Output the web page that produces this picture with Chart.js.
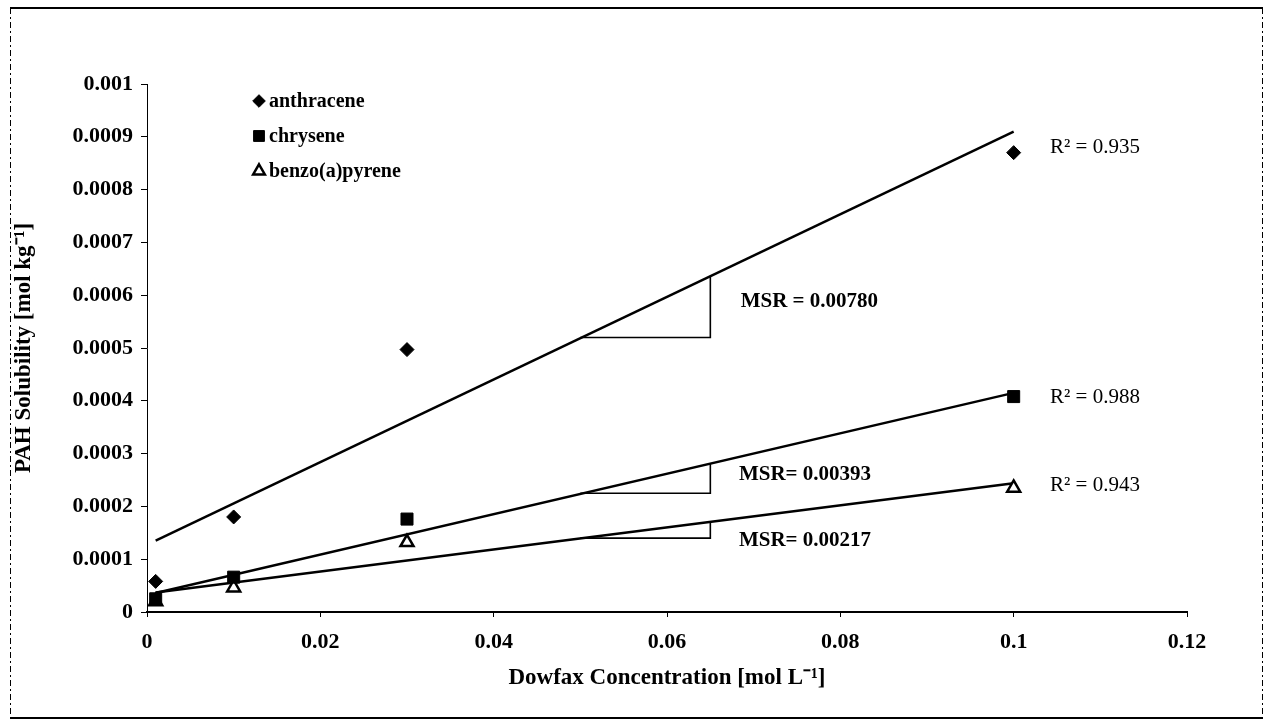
<!DOCTYPE html>
<html><head><meta charset="utf-8">
<script src="https://cdn.jsdelivr.net/npm/chart.js@4/dist/chart.umd.min.js"></script>
<style>html,body{margin:0;padding:0;background:#fff;}#wrap{width:1274px;height:726px;position:relative;}canvas{display:block;}</style>
</head><body><div id="wrap"><canvas id="c" width="1274" height="726" style="width:1274px;height:726px"></canvas></div>
<script>
// ---- data ----
const seriesNames = ['anthracene', 'chrysene', 'benzo(a)pyrene'];
const concentrations = [0.001, 0.01, 0.03, 0.1];
const anthraceneValues = [0.000058, 0.00018, 0.000497, 0.00087];
const chryseneValues = [0.000025, 0.000066, 0.000176, 0.000408];
const benzoValues = [0.00002, 0.000046, 0.000132, 0.000235];
const trendX = [0.001, 0.1];
const anthraceneTrend = [0.000135, 0.00091];
const chryseneTrend = [0.000036, 0.000415];
const benzoTrend = [0.000037, 0.000244];
const slopeX = [0.05, 0.065, 0.065];
const anthraceneSlope = [0.00052, 0.00052, 0.000637];
const chryseneSlope = [0.000225, 0.000225, 0.000282];
const benzoSlope = [0.00014, 0.00014, 0.00017];
const r2Labels = ['R² = 0.935', 'R² = 0.988', 'R² = 0.943'];
const msrLabels = ['MSR = 0.00780', 'MSR= 0.00393', 'MSR= 0.00217'];
const xTickValues = [0, 0.02, 0.04, 0.06, 0.08, 0.1, 0.12];
const yTickValues = [0, 0.0001, 0.0002, 0.0003, 0.0004, 0.0005, 0.0006, 0.0007, 0.0008, 0.0009, 0.001];
const xTitle = 'Dowfax Concentration [mol L⁻¹]';
const yTitle = 'PAH Solubility [mol kg⁻¹]';

// ---- annotation placement (data coordinates) ----
const r2Anchors = [[0.1042, 0.00088], [0.1042, 0.000407], [0.1042, 0.00024]];
const msrAnchors = [[0.0685, 0.000587], [0.0683, 0.00026], [0.0683, 0.000136]];

const pts = (xs, ys) => xs.map((x, i) => ({x: x, y: ys[i]}));
const FONT = "'Liberation Serif', 'Times New Roman', serif";

const markerStyles = [
  {pointStyle: 'rectRot', radius: 7, bg: '#000', border: '#000', bw: 1},
  {pointStyle: 'rect', radius: 8.5, bg: '#000', border: '#000', bw: 1},
  {pointStyle: 'triangle', radius: 7.5, bg: '#fff', border: '#000', bw: 2.5}
];

function lineDs(data) {
  return {type: 'line', data: data, borderColor: '#000', borderWidth: 2.5, pointRadius: 0,
    fill: false, tension: 0, showLine: true, order: 2};
}
function slopeDs(data) {
  return {type: 'line', data: data, borderColor: '#000', borderWidth: 1.6, pointRadius: 0,
    fill: false, tension: 0, showLine: true, order: 2};
}
function scatterDs(i, ys) {
  const m = markerStyles[i];
  return {type: 'scatter', label: seriesNames[i], data: pts(concentrations, ys),
    pointStyle: m.pointStyle, pointRadius: m.radius, pointHoverRadius: m.radius,
    backgroundColor: m.bg, borderColor: m.border, borderWidth: m.bw, order: 1};
}

const framePlugin = {
  id: 'frame',
  beforeDraw(chart) {
    const c = chart.ctx;
    c.save(); c.fillStyle = '#fff'; c.fillRect(0, 0, chart.width, chart.height); c.restore();
  },
  afterDraw(chart) {
    const c = chart.ctx;
    c.save();
    c.strokeStyle = '#000';
    c.lineWidth = 2;
    c.beginPath(); c.moveTo(10, 8); c.lineTo(1263, 8); c.stroke();
    c.beginPath(); c.moveTo(10, 718); c.lineTo(1263, 718); c.stroke();
    c.lineWidth = 1;
    c.setLineDash([6, 3, 2, 3]);
    c.beginPath(); c.moveTo(10.5, 8); c.lineTo(10.5, 718); c.stroke();
    c.beginPath(); c.moveTo(1262.5, 8); c.lineTo(1262.5, 718); c.stroke();
    c.restore();
  }
};

const legendPlugin = {
  id: 'innerLegend',
  afterDatasetsDraw(chart) {
    const c = chart.ctx, a = chart.chartArea;
    const rows = [17, 52, 87];
    c.save();
    c.font = 'bold 20px ' + FONT;
    c.textBaseline = 'middle';
    c.textAlign = 'left';
    c.fillStyle = '#000';
    seriesNames.forEach((name, i) => {
      const m = markerStyles[i];
      const x = a.left + 112, y = a.top + rows[i];
      c.fillStyle = m.bg; c.strokeStyle = m.border; c.lineWidth = m.bw;
      Chart.helpers.drawPoint(c, {pointStyle: m.pointStyle, radius: m.radius * 0.9, borderWidth: m.bw, rotation: 0}, x, y);
      c.fillStyle = '#000';
      c.fillText(name, x + 10, y + 1);
    });
    c.restore();
  }
};

const annotationPlugin = {
  id: 'annot',
  afterDatasetsDraw(chart) {
    const c = chart.ctx, xs = chart.scales.x, ys = chart.scales.y;
    c.save();
    c.fillStyle = '#000';
    c.textBaseline = 'middle';
    c.textAlign = 'left';
    c.font = '21px ' + FONT;
    r2Labels.forEach((t, i) => c.fillText(t, xs.getPixelForValue(r2Anchors[i][0]), ys.getPixelForValue(r2Anchors[i][1])));
    c.font = 'bold 21px ' + FONT;
    msrLabels.forEach((t, i) => c.fillText(t, xs.getPixelForValue(msrAnchors[i][0]), ys.getPixelForValue(msrAnchors[i][1])));
    c.restore();
  }
};

const fmt = v => String(parseFloat(Number(v).toFixed(6)));

new Chart(document.getElementById('c'), {
  data: {
    datasets: [
      scatterDs(0, anthraceneValues),
      scatterDs(1, chryseneValues),
      scatterDs(2, benzoValues),
      lineDs(pts(trendX, anthraceneTrend)),
      lineDs(pts(trendX, chryseneTrend)),
      lineDs(pts(trendX, benzoTrend)),
      slopeDs(pts(slopeX, anthraceneSlope)),
      slopeDs(pts(slopeX, chryseneSlope)),
      slopeDs(pts(slopeX, benzoSlope))
    ]
  },
  options: {
    responsive: false,
    animation: false,
    devicePixelRatio: 1,
    layout: {padding: {left: 10, right: 87, top: 84, bottom: 10}},
    plugins: {legend: {display: false}, tooltip: {enabled: false}},
    scales: {
      x: {
        type: 'linear', min: 0, max: 0.12,
        afterBuildTicks: s => { s.ticks = xTickValues.map(v => ({value: v})); },
        afterFit: s => { s.height = 104; },
        ticks: {callback: v => fmt(v), color: '#000', padding: 12, maxRotation: 0,
          font: {family: FONT, size: 22, weight: 'bold'}},
        grid: {display: true, drawOnChartArea: false, drawTicks: true, tickLength: 5, color: '#000', lineWidth: 1},
        border: {display: true, color: '#000', width: 2},
        title: {display: true, text: xTitle, color: '#000', padding: {top: 0, bottom: 24},
          font: {family: FONT, size: 23, weight: 'bold'}}
      },
      y: {
        type: 'linear', min: 0, max: 0.001,
        afterBuildTicks: s => { s.ticks = yTickValues.map(v => ({value: v})); },
        afterFit: s => { s.width = 137; },
        ticks: {callback: v => fmt(v), color: '#000', padding: 8,
          font: {family: FONT, size: 22, weight: 'bold'}},
        grid: {display: true, drawOnChartArea: false, drawTicks: true, tickLength: 6, color: '#000', lineWidth: 1},
        border: {display: true, color: '#000', width: 1, dash: [5, 3, 1, 3]},
        title: {display: true, text: yTitle, color: '#000', padding: {top: 0, bottom: 0},
          font: {family: FONT, size: 23, weight: 'bold'}}
      }
    }
  },
  plugins: [framePlugin, legendPlugin, annotationPlugin]
});
</script></body></html>
